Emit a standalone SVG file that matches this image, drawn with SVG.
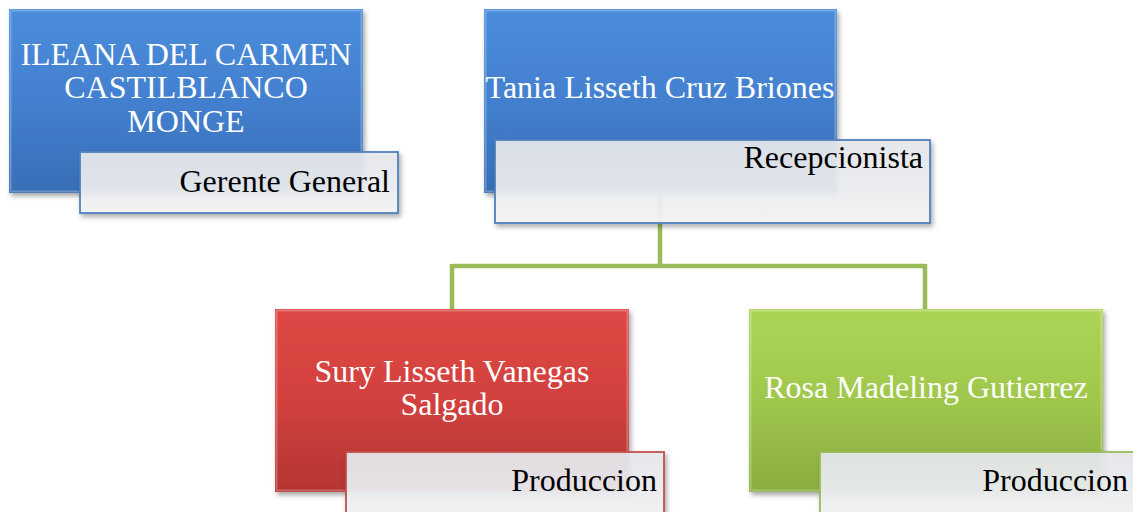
<svg xmlns="http://www.w3.org/2000/svg" width="1133" height="512" viewBox="0 0 1133 512">
<defs>
<linearGradient id="gBlue" x1="0" y1="0" x2="0" y2="1">
<stop offset="0" stop-color="#4a8ddb"/><stop offset="0.5" stop-color="#4380cf"/><stop offset="1" stop-color="#386eb6"/>
</linearGradient>
<linearGradient id="gRed" x1="0" y1="0" x2="0" y2="1">
<stop offset="0" stop-color="#de4845"/><stop offset="0.5" stop-color="#d2413e"/><stop offset="1" stop-color="#b43532"/>
</linearGradient>
<linearGradient id="gGreen" x1="0" y1="0" x2="0" y2="1">
<stop offset="0" stop-color="#acd556"/><stop offset="0.5" stop-color="#9fc74c"/><stop offset="1" stop-color="#8aad3f"/>
</linearGradient>
<linearGradient id="gLabel" x1="0" y1="0" x2="0" y2="1">
<stop offset="0" stop-color="#e6e8ec"/><stop offset="0.55" stop-color="#eceef1"/><stop offset="1" stop-color="#f5f5f6"/>
</linearGradient>
<filter id="sh" x="-10%" y="-10%" width="125%" height="130%">
<feDropShadow dx="2" dy="3" stdDeviation="2.5" flood-color="#000" flood-opacity="0.35"/>
</filter>
</defs>
<style>
.name{font-family:"Liberation Serif","Times New Roman",serif;font-size:32px;fill:#ffffff;text-anchor:middle}
.role{font-family:"Liberation Serif","Times New Roman",serif;font-size:32px;fill:#000000;text-anchor:end}
.lbl{fill:url(#gLabel);fill-opacity:0.92;stroke-width:1.8;filter:url(#sh)}
.bevel{fill:none;stroke:#ffffff;stroke-opacity:0.25;stroke-width:2}
.conn{fill:none;stroke:#9bbb59;stroke-width:4.5}
</style>
<g id="connectors">
<path class="conn" d="M660 193 V266 M452 266 H925 M452 264 V309 M925 264 V309"/>
</g>
<g id="node-ileana">
<rect x="9" y="9" width="354" height="184" fill="url(#gBlue)" filter="url(#sh)"/>
<rect x="10.5" y="10.5" width="351" height="181" class="bevel"/>
<text class="name" x="186" y="65">ILEANA DEL CARMEN</text>
<text class="name" x="186" y="98">CASTILBLANCO</text>
<text class="name" x="186" y="132">MONGE</text>
<rect x="80" y="152" width="318" height="61" class="lbl" stroke="#4f81bd"/>
<text class="role" x="390" y="192">Gerente General</text>
</g>
<g id="node-tania">
<rect x="484" y="9" width="353" height="184" fill="url(#gBlue)" filter="url(#sh)"/>
<rect x="485.5" y="10.5" width="350" height="181" class="bevel"/>
<text class="name" x="660" y="98">Tania Lisseth Cruz Briones</text>
<rect x="495" y="140" width="435" height="83" class="lbl" stroke="#4f81bd"/>
<text class="role" x="923" y="168">Recepcionista</text>
</g>
<g id="node-sury">
<rect x="275" y="309" width="354" height="183" fill="url(#gRed)" filter="url(#sh)"/>
<rect x="276.5" y="310.5" width="351" height="180" class="bevel"/>
<text class="name" x="452" y="382">Sury Lisseth Vanegas</text>
<text class="name" x="452" y="415">Salgado</text>
<rect x="346" y="452" width="318" height="70" class="lbl" stroke="#c0504d"/>
<text class="role" x="657" y="491">Produccion</text>
</g>
<g id="node-rosa">
<rect x="749" y="309" width="354" height="183" fill="url(#gGreen)" filter="url(#sh)"/>
<rect x="750.5" y="310.5" width="351" height="180" class="bevel"/>
<text class="name" x="926" y="398">Rosa Madeling Gutierrez</text>
<rect x="820" y="452" width="330" height="70" class="lbl" stroke="#9bbb59"/>
<text class="role" x="1128" y="491">Produccion</text>
</g>
</svg>
